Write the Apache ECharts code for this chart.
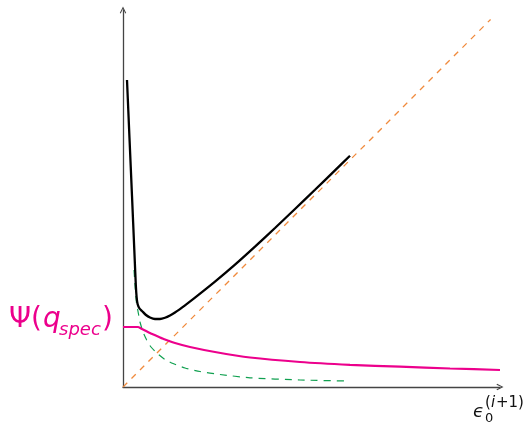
<!DOCTYPE html>
<html>
<head>
<meta charset="utf-8">
<script src="https://cdn.jsdelivr.net/npm/echarts@6/dist/echarts.min.js"></script>
<style>html,body{margin:0;padding:0;background:#fff}#c{width:527px;height:427px}</style>
</head>
<body>
<div id="c"></div>
<script>
// Objective curve (black)
const objectiveCurve = [
  [0.106, 8.143], [0.172, 6.605], [0.239, 5.066], [0.300, 3.634], [0.340, 2.706],
  [0.361, 2.387], [0.387, 2.202], [0.438, 2.082], [0.504, 2.016], [0.610, 1.910],
  [0.716, 1.844], [0.849, 1.804], [0.981, 1.804], [1.114, 1.836], [1.247, 1.897],
  [1.379, 1.976], [1.645, 2.167], [1.910, 2.369], [2.440, 2.793], [2.971, 3.244],
  [3.501, 3.722], [4.032, 4.218], [4.562, 4.721], [5.093, 5.231], [5.623, 5.745],
  [6.021, 6.133]
];
// Decaying term (green dashed)
const decayCurve = [
  [0.292, 3.103], [0.324, 2.626], [0.358, 2.228], [0.406, 1.963], [0.451, 1.724],
  [0.531, 1.459], [0.629, 1.247], [0.743, 1.061], [0.894, 0.902], [1.114, 0.729],
  [1.326, 0.623], [1.645, 0.504], [2.042, 0.411], [2.573, 0.332], [3.369, 0.244],
  [4.695, 0.186], [5.968, 0.159]
];
// Psi(q_spec) curve (magenta)
const psiCurve = [
  [0, 1.592], [0.398, 1.592], [0.477, 1.552], [0.584, 1.499], [0.716, 1.432],
  [0.928, 1.340], [1.114, 1.260], [1.379, 1.167], [1.777, 1.061], [2.440, 0.928],
  [3.369, 0.782], [4.695, 0.663], [6.021, 0.589], [7.347, 0.538], [8.674, 0.491],
  [10, 0.451]
];
// Identity line (orange dashed)
const identityLine = [[0, 0], [9.75, 9.75]];

const pink = '#ec008c';
const chevron = 'path://M0,10 L5,0 L10,10 L8.6,10.9 L5,3.4 L1.4,10.9 Z';

const chart = echarts.init(document.getElementById('c'));
chart.setOption({
  animation: false,
  grid: { left: 123, top: 10, width: 377, height: 377 },
  xAxis: {
    type: 'value', min: 0, max: 10,
    axisLine: { show: true, symbol: ['none', chevron], symbolSize: [10, 7],
      lineStyle: { color: '#444', width: 1.3 } },
    axisTick: { show: false }, axisLabel: { show: false }, splitLine: { show: false }
  },
  yAxis: {
    type: 'value', min: 0, max: 10,
    axisLine: { show: true, symbol: ['none', chevron], symbolSize: [10, 7],
      lineStyle: { color: '#444', width: 1.3 } },
    axisTick: { show: false }, axisLabel: { show: false }, splitLine: { show: false }
  },
  series: [
    { type: 'line', data: identityLine, showSymbol: false, z: 1, color: '#f08a3c',
      lineStyle: { color: '#f08a3c', width: 1.3, type: [6, 6] } },
    { type: 'line', data: decayCurve, showSymbol: false, smooth: 0.2, z: 2, color: '#10a050',
      lineStyle: { color: '#10a050', width: 1.2, type: [7, 6] } },
    { type: 'line', data: psiCurve, showSymbol: false, smooth: 0.2, z: 3, color: pink,
      lineStyle: { color: pink, width: 2.2 } },
    { type: 'line', data: objectiveCurve, showSymbol: false, smooth: 0.25, z: 4, color: '#000',
      lineStyle: { color: '#000', width: 2.3 } }
  ],
  graphic: [
    { type: 'text', left: 9, top: 306, style: { text: 'Ψ(', fill: pink, font: '28px "DejaVu Sans"' } },
    { type: 'text', left: 43, top: 306, style: { text: 'q', fill: pink, font: 'italic 28px "DejaVu Sans"' } },
    { type: 'text', left: 59, top: 321, style: { text: 'spec', fill: pink, font: 'italic 18px "DejaVu Sans"' } },
    { type: 'text', left: 102, top: 306, style: { text: ')', fill: pink, font: '28px "DejaVu Sans"' } },
    { type: 'text', left: 473, top: 403, style: { text: 'ϵ', fill: '#111', font: 'italic 18px "DejaVu Sans"' } },
    { type: 'text', left: 485, top: 412, style: { text: '0', fill: '#111', font: '13px "DejaVu Sans"' } },
    { type: 'text', left: 485, top: 396, style: { text: '(', fill: '#111', font: '15px "DejaVu Sans"' } },
    { type: 'text', left: 491, top: 396, style: { text: 'i', fill: '#111', font: 'italic 15px "DejaVu Sans"' } },
    { type: 'text', left: 496, top: 396, style: { text: '+1)', fill: '#111', font: '15px "DejaVu Sans"' } }
  ]
});
</script>
</body>
</html>
